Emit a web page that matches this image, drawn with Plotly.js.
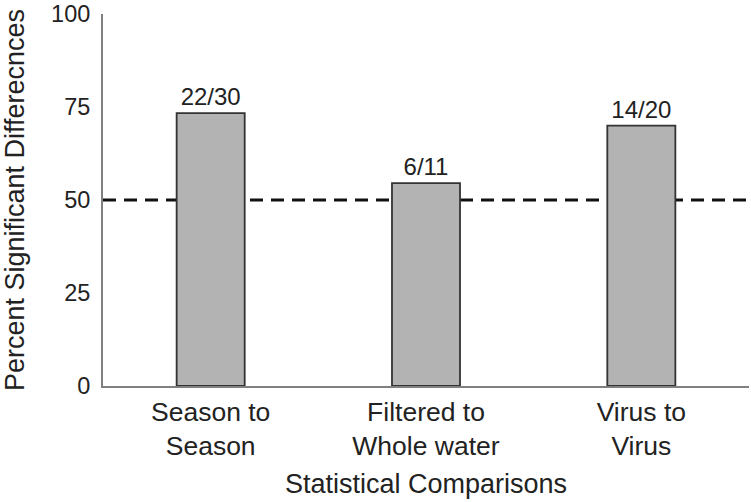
<!DOCTYPE html>
<html>
<head>
<meta charset="utf-8">
<script src="https://cdn.plot.ly/plotly-3.0.1.min.js"></script>
<style>html,body{margin:0;padding:0;background:#fff;}#chart{width:751px;height:502px;}</style>
</head>
<body>
<div id="chart"></div>
<script>
const categories = ["Season to<br>Season", "Filtered to<br>Whole water", "Virus to<br>Virus"];
const significant = [22, 6, 14];
const comparisons = [30, 11, 20];
const referenceLine = 50;
const yTicks = [0, 25, 50, 75, 100];

const percents = significant.map((s, i) => 100 * s / comparisons[i]);
const labels = significant.map((s, i) => s + "/" + comparisons[i]);

const fam = "Liberation Sans, Arial, sans-serif";

const trace = {
  type: "bar",
  x: categories,
  y: percents,
  text: labels,
  textposition: "outside",
  cliponaxis: false,
  textfont: {family: fam, size: 24, color: "#222"},
  width: 0.316,
  marker: {color: "#b3b3b3", line: {color: "#333", width: 1.8}},
  hoverinfo: "skip"
};

const layout = {
  width: 751, height: 502,
  margin: {l: 103, r: 2, t: 14, b: 116},
  paper_bgcolor: "#fff", plot_bgcolor: "#fff",
  showlegend: false,
  font: {family: fam, size: 24, color: "#222"},
  xaxis: {
    range: [-0.5, 2.5],
    showgrid: false, zeroline: false,
    showline: true, linecolor: "#808080", linewidth: 2,
    ticks: "", ticklabelstandoff: 1,
    tickfont: {family: fam, size: 26.5, color: "#222"},
    title: {text: "Statistical Comparisons", font: {family: fam, size: 27, color: "#222"}, standoff: 14}
  },
  yaxis: {
    range: [0, 100],
    tickvals: yTicks,
    showgrid: false, zeroline: false,
    showline: true, linecolor: "#808080", linewidth: 2,
    ticks: "", ticklabelstandoff: 6,
    tickfont: {family: fam, size: 23.5, color: "#222"},
    title: {text: "Percent Significant Differecnces", font: {family: fam, size: 27, color: "#222"}, standoff: 22}
  },
  shapes: [{
    type: "line", xref: "paper", x0: 0, x1: 1, yref: "y", y0: referenceLine, y1: referenceLine,
    layer: "below",
    line: {color: "#111", width: 3, dash: "13px,8px"}
  }]
};

Plotly.newPlot("chart", [trace], layout, {displayModeBar: false, staticPlot: true});
</script>
</body>
</html>
